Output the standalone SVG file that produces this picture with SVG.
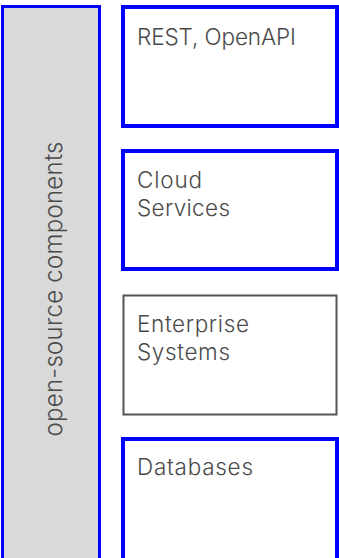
<svg xmlns="http://www.w3.org/2000/svg" width="339" height="558" viewBox="0 0 339 558">
<style>
.blue{fill:#ffffff;stroke:#0000ff;stroke-width:4}
.gray{fill:#ffffff;stroke:#555555;stroke-width:2}
.lbl{font-family:Inter,"Noto Sans",sans-serif;font-size:22.5px;font-weight:300;fill:#4a4a4a}
</style>
<rect width="339" height="558" fill="#ffffff"/>
<g id="side">
<rect x="2.5" y="6.5" width="97" height="570" fill="#d9d9d9" stroke="#0000ff" stroke-width="3"/>
<text class="lbl" style="font-size:24px" transform="translate(62,289) rotate(-90)" text-anchor="middle" textLength="295" lengthAdjust="spacing">open-source components</text>
</g>
<g id="n1">
<rect class="blue" x="123" y="7" width="214" height="119"/>
<text class="lbl" x="137" y="45" textLength="159" lengthAdjust="spacing">REST, OpenAPI</text>
</g>
<g id="n2">
<rect class="blue" x="123" y="151" width="214" height="118"/>
<text class="lbl" x="137" y="188" textLength="65" lengthAdjust="spacing">Cloud</text>
<text class="lbl" x="137" y="216" textLength="93" lengthAdjust="spacing">Services</text>
</g>
<g id="n3">
<rect class="gray" x="123.5" y="295.5" width="213" height="119"/>
<text class="lbl" x="137" y="332" textLength="112" lengthAdjust="spacing">Enterprise</text>
<text class="lbl" x="137" y="360" textLength="93" lengthAdjust="spacing">Systems</text>
</g>
<g id="n4">
<rect class="blue" x="123" y="439" width="214" height="140"/>
<text class="lbl" x="137" y="475" textLength="116" lengthAdjust="spacing">Databases</text>
</g>
<g id="connectors"></g>
</svg>
